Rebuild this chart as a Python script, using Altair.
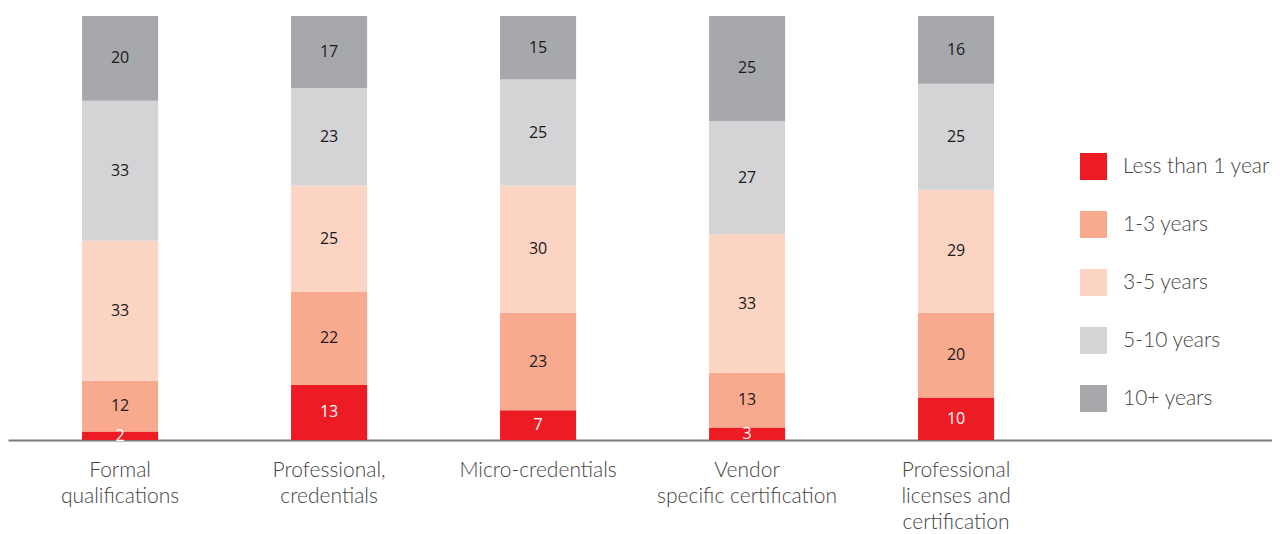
import altair as alt
import pandas as pd

categories = ["Formal qualifications", "Professional, credentials", "Micro-credentials",
              "Vendor specific certification", "Professional licenses and certification"]
cat_lines = [["Formal", "qualifications"], ["Professional,", "credentials"], ["Micro-credentials"],
             ["Vendor", "specific certification"], ["Professional", "licenses and", "certification"]]
series = ["Less than 1 year", "1-3 years", "3-5 years", "5-10 years", "10+ years"]
colors = ["#ED1C24", "#F8AA8F", "#FCD4C3", "#D4D4D6", "#A7A8AC"]
less_than_1 = [2, 13, 7, 3, 10]
y1_3 = [12, 22, 23, 13, 20]
y3_5 = [33, 25, 30, 33, 29]
y5_10 = [33, 23, 25, 27, 25]
y10p = [20, 17, 15, 25, 16]

vals = [less_than_1, y1_3, y3_5, y5_10, y10p]
rows = []
for si, s in enumerate(series):
    for ci, c in enumerate(categories):
        rows.append({"category": c, "series": s, "order": si, "value": vals[si][ci]})
df = pd.DataFrame(rows)

domain_x = categories + [" "]
label_map = "{" + ",".join(
    "'" + c + "': [" + ",".join("'" + l + "'" for l in ls) + "]" for c, ls in zip(categories, cat_lines)
) + "}"

xscale = alt.Scale(domain=domain_x, paddingInner=0.636, paddingOuter=0.342, align=0.518)

base = alt.Chart(df).transform_stack(
    stack="value", groupby=["category"], as_=["y0", "y1"], offset="normalize",
    sort=[alt.SortField("order", order="ascending")]
).transform_calculate(mid="(datum.y0 + datum.y1) / 2")

x_enc = alt.X("category:N", scale=xscale, sort=domain_x,
              axis=alt.Axis(title=None, labelAngle=0, ticks=False, domainColor="#7a7a7a", domainWidth=2,
                            labelFont="Lato", labelFontWeight=300, labelFontSize=21, labelColor="#444444",
                            labelLineHeight=26, labelPadding=19, labelBaseline="top", labelLimit=400,
                            labelExpr="(" + label_map + ")[datum.label] || ''"))

yscale = alt.Scale(domain=[0, 1], nice=False)

bars = base.mark_bar().encode(
    x=x_enc,
    y=alt.Y("y0:Q", scale=yscale, axis=None),
    y2="y1:Q",
    color=alt.Color("series:N", scale=alt.Scale(domain=series, range=colors),
                    legend=alt.Legend(title=None, orient="none", legendX=1072, legendY=137,
                                      symbolType="square", symbolSize=729, symbolStrokeWidth=0,
                                      labelFont="Lato", labelFontWeight=300, labelFontSize=21,
                                      labelColor="#444444", labelOffset=16, rowPadding=31,
                                      labelLimit=400, symbolOpacity=1)),
)

text = base.mark_text(font="Open Sans", fontSize=16, baseline="middle").encode(
    x=alt.X("category:N", scale=xscale, sort=domain_x),
    y=alt.Y("mid:Q", scale=yscale),
    text="value:Q",
    color=alt.condition("datum.order == 0", alt.value("white"), alt.value("#1a1a1a")),
)

chart = alt.layer(bars, text).properties(
    width=1264, height=424, padding={"left": 0, "top": 8, "right": 0, "bottom": 0}
).configure_view(stroke=None)

chart.save("out.html", embed_options={"renderer": "svg", "actions": False})
